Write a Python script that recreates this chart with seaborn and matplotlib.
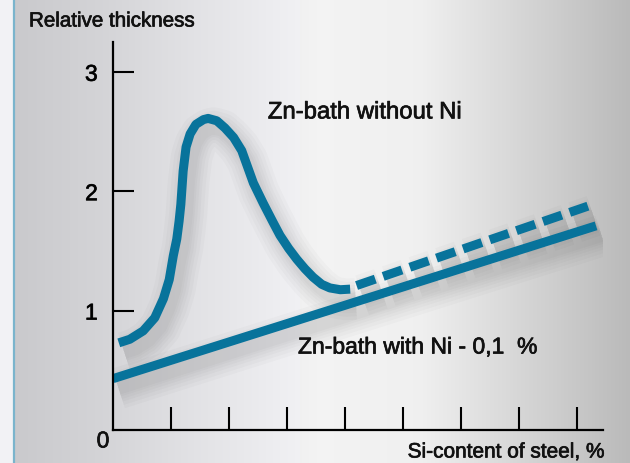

# Relative zinc coating thickness vs Si content of steel
# with and without Ni in the zinc bath

import numpy as np
import pandas as pd
import matplotlib
matplotlib.use("Agg")
import matplotlib.pyplot as plt
import matplotlib.patheffects as pe
import seaborn as sns

# Zn-bath without Ni (solid part of the curve)
si_no_ni = [0.10, 0.29, 0.52, 0.72, 0.87, 0.97, 1.04, 1.10, 1.14, 1.17, 1.21,
            1.26, 1.33, 1.43, 1.56, 1.64, 1.79, 1.93, 2.08, 2.22, 2.42, 2.59,
            2.76, 2.88, 3.03, 3.17, 3.31, 3.45, 3.60, 3.74, 3.92, 4.09]
thk_no_ni = [0.73, 0.76, 0.83, 0.94, 1.10, 1.26, 1.46, 1.60, 1.75, 1.89, 2.17,
             2.37, 2.48, 2.56, 2.60, 2.61, 2.59, 2.53, 2.45, 2.34, 2.07, 1.90,
             1.74, 1.63, 1.52, 1.43, 1.35, 1.28, 1.22, 1.19, 1.175, 1.18]

# Zn-bath without Ni, extrapolated part (dashed)
si_no_ni_ext = [4.20, 8.19]
thk_no_ni_ext = [1.21, 1.875]

# Zn-bath with Ni - 0,1 %
si_ni = [0.0, 8.33]
thk_ni = [0.43, 1.71]

y_ticks = [1, 2, 3]
x_ticks = [1, 2, 3, 4, 5, 6, 7, 8]

blue = "#08739b"
ink = "#111111"

sns.set_style("white")
plt.rcParams["font.family"] = ["Liberation Sans", "DejaVu Sans"]

fig = plt.figure(figsize=(6.3, 4.64), dpi=100)

# background: grey gradient, lighter in the middle, thin blue rule on the left
bg = fig.add_axes([0, 0, 1, 1], zorder=-5)
px = np.arange(630)
kx = [0, 13, 15, 100, 200, 320, 420, 500, 580, 629]
kg = [0.95, 0.95, 0.79, 0.83, 0.89, 0.955, 0.94, 0.86, 0.78, 0.73]
g = np.interp(px, kx, kg)
rgb = np.stack([g, g, g + np.where(px < 300, 0.012, 0.0)], axis=-1).clip(0, 1)
bg.imshow(rgb[None, :, :], aspect="auto", extent=[0, 1, 0, 1])
bg.axvline(13.5 / 630, color="#7ab4cc", lw=1.6)
bg.set_xlim(0, 1)
bg.set_ylim(0, 1)
bg.axis("off")

ax = fig.add_axes([113 / 630, 33 / 464, 490 / 630, 388 / 464])
ax.patch.set_alpha(0)

df_no_ni = pd.DataFrame({"si": si_no_ni, "thk": thk_no_ni})
df_ext = pd.DataFrame({"si": si_no_ni_ext, "thk": thk_no_ni_ext})
df_ni = pd.DataFrame({"si": si_ni, "thk": thk_ni})

# soft drop shadow under the thick lines (stacked faint strokes)
shadow = [pe.SimpleLineShadow(offset=(4, -7), shadow_color="black", alpha=0.018,
                              linewidth=w) for w in (30, 25, 20, 16, 12, 9)]
shadow += [pe.Normal()]

sns.lineplot(data=df_no_ni, x="si", y="thk", ax=ax, color=blue, lw=6.5,
             sort=False, solid_capstyle="butt", solid_joinstyle="round",
             path_effects=shadow)
sns.lineplot(data=df_ext, x="si", y="thk", ax=ax, color=blue, lw=6.5,
             linestyle=(0, (2.2, 0.92)), dash_capstyle="butt",
             path_effects=shadow)
sns.lineplot(data=df_ni, x="si", y="thk", ax=ax, color=blue, lw=6.5,
             solid_capstyle="butt", path_effects=shadow)

ax.set_xlim(0, 8.45)
ax.set_ylim(0, 3.25)
ax.set_xlabel("")
ax.set_ylabel("")

for s in ["top", "right"]:
    ax.spines[s].set_visible(False)
for s in ["left", "bottom"]:
    ax.spines[s].set_color("black")
    ax.spines[s].set_linewidth(1.6)

bold_ish = [pe.withStroke(linewidth=0.5, foreground=ink)]

ax.set_yticks(y_ticks)
ax.set_yticklabels([str(t) for t in y_ticks], fontsize=16.5, color=ink,
                   path_effects=bold_ish)
ax.set_xticks(x_ticks)
ax.set_xticklabels([])
ax.tick_params(axis="y", direction="in", length=15, width=1.5, pad=11,
               colors="black", left=True)
ax.tick_params(axis="x", direction="in", length=16.5, width=1.5,
               colors="black", bottom=True)

# curve labels
ax.text(2.67, 2.66, "Zn-bath without Ni", fontsize=17.2, ha="left",
        va="center", color=ink, path_effects=bold_ish)
ax.text(3.19, 0.695, "Zn-bath with Ni - 0,1  %", fontsize=16.5, ha="left",
        va="center", color=ink, path_effects=bold_ish)

# axis titles and the origin
fig.text(29 / 630, 1 - 22 / 464, "Relative thickness", fontsize=14.8,
         ha="left", va="center", color=ink, path_effects=bold_ish)
fig.text(605 / 630, 1 - 453 / 464, "Si-content of steel, %", fontsize=15,
         ha="right", va="center", color=ink, path_effects=bold_ish)
fig.text(103 / 630, 1 - 442 / 464, "0", fontsize=16.5, ha="center",
         va="center", color=ink, path_effects=bold_ish)

plt.savefig("out.png", dpi=100)
